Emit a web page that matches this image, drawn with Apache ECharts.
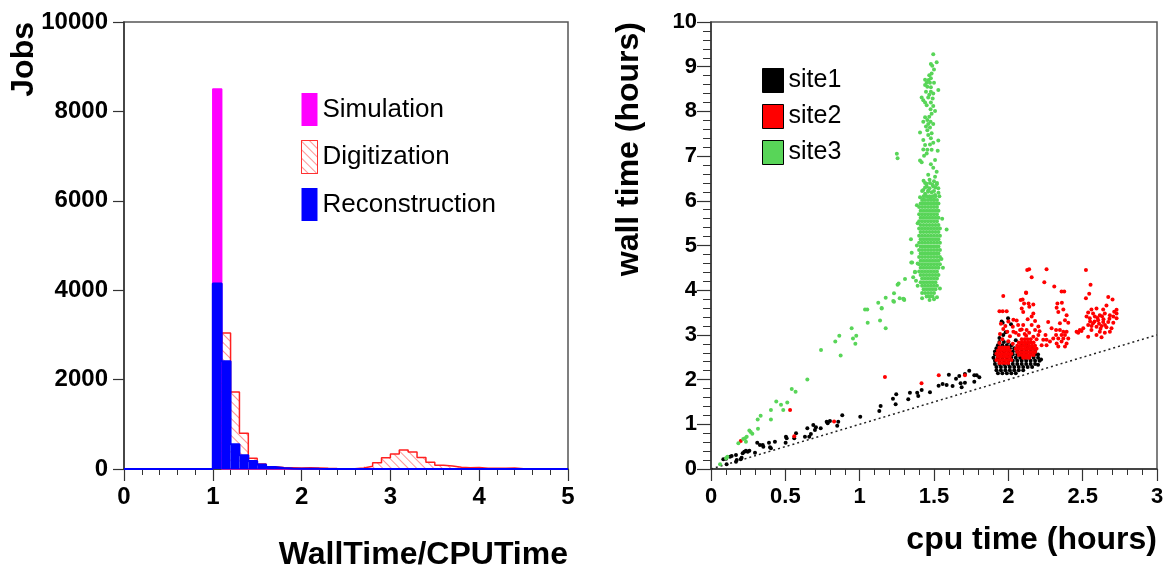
<!DOCTYPE html>
<html>
<head>
<meta charset="utf-8">
<script src="https://cdn.jsdelivr.net/npm/echarts@6/dist/echarts.min.js"></script>
<style>html,body{margin:0;padding:0;background:#fff}#c{width:1168px;height:572px}</style>
</head>
<body>
<div id="c"></div>
<script>
// ---------- Histogram (WallTime/CPUTime), 50 bins of width 0.1 from 0 to 5 ----------
const simulation = [0,0,0,0,0,0,0,0,0,0, 8500,0,0,0,0,0,0,0,0,0, 0,0,0,0,0,0,0,0,0,0, 0,0,0,0,0,0,0,0,0,0, 0,0,0,0,0,0,0,0,0,0];
const digitization = [0,0,0,0,0,0,0,0,0,0, 2800,3040,1720,800,240,110,50,35,30,25, 28,25,15,10,8,8,20,60,140,250, 335,425,380,260,150,83,67,38,30,35, 15,15,18,20,4,3,2,0,0,0];
const reconstruction = [0,0,0,0,0,0,0,0,0,0, 4150,2410,553,306,179,100,45,25,12,8, 5,3,2,0,0,0,0,0,0,0, 0,0,0,0,0,0,0,0,0,0, 0,0,0,0,0,0,0,0,0,0];
const histXTicks = [0,1,2,3,4,5];
const histYTicks = [0,2000,4000,6000,8000,10000];

// ---------- Scatter (cpu time vs wall time, hours) ----------
const site1 = [
[0.083,0.216],[0.101,0.231],[0.105,0.104],[0.128,0.276],[0.139,0.291],[0.168,0.313],[0.173,0.201],[0.168,0.164],[0.2,0.216],[0.206,0.253],
[0.213,0.351],[0.224,0.388],[0.235,0.41],[0.247,0.388],[0.258,0.41],[0.296,0.365],[0.311,0.589],[0.329,0.537],[0.348,0.537],[0.352,0.5],
[0.39,0.589],[0.397,0.485],[0.403,0.463],[0.43,0.611],[0.502,0.589],[0.504,0.723],[0.509,0.686],[0.56,0.686],[0.572,0.798],[0.632,0.723],
[0.648,0.91],[0.661,0.723],[0.672,0.783],[0.688,0.984],[0.699,0.872],[0.706,0.932],[0.738,0.91],[0.778,1.059],[0.785,1.022],[0.8,1.074],
[0.849,0.969],[0.856,1.059],[0.883,1.201],[1.004,1.17],[1.132,1.298],[1.141,1.409],[1.224,1.573],[1.242,1.447],[1.246,1.671],[1.327,1.559],
[1.338,1.707],[1.387,1.707],[1.394,1.633],[1.417,1.767],[1.473,1.715],[1.531,1.864],[1.558,1.902],[1.585,1.879],[1.6,2.11],[1.625,1.857],
[1.648,2.02],[1.67,2.08],[1.708,2.125],[1.737,2.2],[1.686,1.83],[1.708,1.93],[1.679,1.92],[1.771,2.10],[1.787,2.10],[1.805,2.05],[1.771,1.95],
[1.94,2.84],[1.97,2.84],[2.00,2.84],
[1.93,2.77],[1.96,2.77],[1.99,2.77],[2.02,2.77],[2.09,2.77],[2.12,2.77],
[1.92,2.70],[1.95,2.70],[1.98,2.70],[2.01,2.70],[2.04,2.70],[2.07,2.70],[2.13,2.70],[2.16,2.70],
[1.91,2.63],[1.94,2.63],[1.97,2.63],[2.00,2.63],[2.03,2.63],[2.06,2.63],[2.09,2.63],[2.12,2.63],[2.15,2.63],[2.18,2.63],
[1.91,2.56],[1.94,2.56],[1.97,2.56],[2.00,2.56],[2.03,2.56],[2.06,2.56],[2.09,2.56],[2.12,2.56],[2.15,2.56],[2.18,2.56],[2.20,2.56],
[1.90,2.49],[1.93,2.49],[1.96,2.49],[1.99,2.49],[2.02,2.49],[2.05,2.49],[2.08,2.49],[2.11,2.49],[2.14,2.49],[2.17,2.49],[2.20,2.49],
[1.91,2.42],[1.94,2.42],[1.97,2.42],[2.00,2.42],[2.03,2.42],[2.06,2.42],[2.09,2.42],[2.12,2.42],[2.15,2.42],[2.18,2.42],[2.21,2.42],
[1.91,2.35],[1.94,2.35],[1.97,2.35],[2.00,2.35],[2.03,2.35],[2.06,2.35],[2.09,2.35],[2.12,2.35],[2.15,2.35],[2.18,2.35],
[1.92,2.28],[1.95,2.28],[1.98,2.28],[2.01,2.28],[2.04,2.28],[2.07,2.28],[2.10,2.28],[2.13,2.28],[2.16,2.28],
[1.92,2.21],[1.95,2.21],[1.98,2.21],[2.01,2.21],[2.04,2.21],[2.07,2.21],[2.10,2.21],
[1.93,2.14],[1.96,2.14],[1.99,2.14],[2.02,2.14],[2.05,2.14],
[1.962,3.27],[1.998,3.37],[1.955,3.30],[1.982,3.06],[1.966,3.00],[2.018,3.24],[1.94,2.93],[2.05,2.88],[2.20,2.33],[2.22,2.45]
];
const site2 = [
[0.2,0.626],[0.532,1.32],[0.56,0.73],[0.828,1.06],[1.17,2.06],[1.416,1.92],[1.532,2.1],[1.708,2.10],
[2.127,4.45],[2.14,4.47],[2.257,4.47],[2.522,4.45],[2.157,4.29],[2.242,4.18],[2.309,4.08],[2.553,4.12],[1.966,3.87],[2.119,3.95],[2.358,3.97],[2.376,3.97],
[2.544,3.92],[2.672,3.85],[2.522,3.82],
[1.94,3.53],[1.962,3.53],[1.989,3.53],[2.083,3.78],[2.096,3.79],[2.12,3.94],[2.106,3.70],[2.136,3.70],[2.168,3.68],[2.09,3.59],[2.10,3.51],[2.141,3.63],
[2.168,3.48],[2.157,3.41],[2.13,3.35],[2.18,3.31],[2.056,3.32],[2.034,3.34],[1.966,3.13],[1.944,3.02],[1.993,3.07],[2.011,2.97],[2.034,3.07],
[2.066,3.22],[2.079,3.11],[2.1,3.22],[2.123,3.11],[2.157,3.22],[2.18,3.11],[2.202,3.19],[2.202,3.0],[2.235,2.89],[2.257,2.89],[2.224,2.77],[2.168,2.96],
[2.268,3.29],[2.33,3.70],[2.36,3.72],[2.325,3.61],[2.37,3.57],[2.336,3.51],[2.392,3.44],[2.381,3.33],[2.347,3.26],[2.403,3.27],
[2.291,3.15],[2.321,3.11],[2.347,3.11],[2.37,3.07],[2.392,3.07],[2.321,3.0],[2.358,3.0],[2.381,3.0],[2.302,2.92],[2.336,2.92],[2.37,2.92],[2.403,2.92],
[2.325,2.81],[2.358,2.85],[2.392,2.81],[2.336,2.74],[2.381,2.74],[2.28,2.85],[2.257,2.77],[2.459,3.07],[2.481,3.11],
[2.701,3.79],[2.728,3.56],[2.712,3.52],[2.66,3.66],[2.638,3.57],[2.593,3.59],[2.559,3.57],[2.57,3.48],[2.537,3.50],[2.526,3.41],[2.548,3.37],
[2.582,3.41],[2.615,3.44],[2.649,3.48],[2.683,3.44],[2.706,3.41],[2.728,3.37],[2.604,3.33],[2.638,3.29],[2.672,3.29],[2.706,3.27],[2.57,3.26],
[2.537,3.22],[2.593,3.18],[2.627,3.20],[2.66,3.17],[2.694,3.15],[2.504,3.15],[2.559,3.11],[2.615,3.07],[2.649,3.05],[2.683,3.07],[2.593,3.0],
[2.537,2.96],[2.627,2.95],[2.492,3.09],[2.47,3.05],[2.728,3.48],
[2.58,3.3],[2.61,3.25],[2.64,3.35],[2.60,3.38],[2.62,3.14],[2.65,3.22],[2.56,3.2],[2.68,3.36],[2.55,3.3],[2.63,3.42],
[1.95,3.25],[1.98,3.2],[2.0,3.3],[2.03,3.18],[2.05,3.05],[2.07,3.0],[2.11,3.02],[2.14,3.05],[2.12,2.98],[2.09,3.12],[2.19,2.90],[2.21,3.08],
[2.25,3.0],[2.0,2.86],[1.96,2.9],[1.94,2.82],[2.03,2.8],
[1.94,2.72],[1.96,2.72],[1.98,2.72],[2.00,2.72],
[1.93,2.65],[1.95,2.65],[1.97,2.65],[1.99,2.65],[2.01,2.65],
[1.92,2.58],[1.94,2.58],[1.96,2.58],[1.98,2.58],[2.00,2.58],[2.02,2.58],
[1.93,2.51],[1.95,2.51],[1.97,2.51],[1.99,2.51],[2.01,2.51],
[1.92,2.44],[1.94,2.44],[1.96,2.44],[1.98,2.44],[2.00,2.44],[2.02,2.44],
[1.94,2.37],[1.96,2.37],[1.98,2.37],[2.00,2.37],
[2.09,2.90],[2.11,2.90],[2.13,2.90],[2.15,2.90],
[2.07,2.83],[2.09,2.83],[2.11,2.83],[2.13,2.83],[2.15,2.83],[2.17,2.83],
[2.06,2.76],[2.08,2.76],[2.10,2.76],[2.12,2.76],[2.14,2.76],[2.16,2.76],[2.18,2.76],
[2.05,2.69],[2.07,2.69],[2.09,2.69],[2.11,2.69],[2.13,2.69],[2.15,2.69],[2.17,2.69],[2.19,2.69],
[2.06,2.62],[2.08,2.62],[2.10,2.62],[2.12,2.62],[2.14,2.62],[2.16,2.62],[2.18,2.62],
[2.07,2.55],[2.09,2.55],[2.11,2.55],[2.13,2.55],[2.15,2.55],[2.17,2.55],
[2.10,2.49],[2.12,2.49],[2.14,2.49]
];
const site3 = [
[0.061,0.105],[0.101,0.24],[0.11,0.275],[0.184,0.575],[0.217,0.67],[0.229,0.69],[0.24,0.72],[0.235,0.61],[0.258,0.86],[0.267,0.83],
[0.278,0.79],[0.316,0.90],[0.314,1.11],[0.334,1.19],[0.403,1.32],[0.403,1.11],[0.439,1.51],[0.471,1.44],[0.486,1.32],[0.513,1.49],
[0.543,1.79],[0.569,1.73],[0.648,2.00],[0.74,2.66],[0.836,2.85],[0.863,2.98],[0.872,2.54],[0.946,3.15],[0.955,2.92],[0.971,2.80],
[0.977,2.98],[1.036,3.57],[1.051,3.57],[1.054,3.27],[1.125,3.72],[1.137,3.32],[1.148,3.59],[1.175,3.83],[1.175,3.15],[1.231,3.93],
[1.231,3.74],[1.255,4.12],[1.262,4.15],[1.269,3.82],[1.298,3.80],[1.305,4.25],[1.347,4.62],[1.36,4.29],[1.372,4.40],[1.379,4.21],
[1.50,3.80],[1.54,4.04],[1.585,5.36],[1.345,5.14],[1.35,4.84],[1.353,4.62],[1.372,4.41],[1.25,7.05],[1.255,6.95],[1.226,3.76],
[1.293,3.81],[1.30,3.78],[1.148,3.60],
[1.495,9.28],[1.518,9.10],[1.479,9.06],[1.488,9.02],[1.50,8.94],[1.484,8.85],[1.468,8.81],[1.479,8.74],[1.464,8.70],[1.44,8.71],
[1.451,8.64],[1.473,8.64],[1.50,8.64],[1.44,8.59],[1.455,8.55],[1.479,8.54],[1.529,8.48],[1.446,8.44],[1.479,8.44],[1.495,8.40],
[1.468,8.37],[1.417,8.31],[1.461,8.31],[1.491,8.29],[1.428,8.25],[1.44,8.2],[1.479,8.2],[1.451,8.14],[1.495,8.12],[1.477,8.05],
[1.507,8.01],[1.484,7.95],[1.468,7.88],[1.44,7.87],[1.455,7.81],[1.428,7.77],[1.477,7.77],[1.461,7.72],[1.495,7.72],[1.446,7.66],
[1.473,7.64],[1.455,7.58],[1.406,7.53],[1.484,7.51],[1.461,7.47],[1.479,7.40],[1.428,7.36],[1.529,7.35],[1.495,7.30],[1.473,7.26],
[1.44,7.25],[1.428,7.15],[1.455,7.14],[1.484,7.14],[1.525,7.12],[1.451,7.06],[1.433,7.01],[1.507,6.91],[1.406,6.90],[1.417,6.86],
[1.479,6.82],[1.495,6.74],[1.518,6.65],[1.461,6.58],[1.507,6.54],[1.44,6.40],[1.473,6.40],[1.518,6.37],[1.451,6.32],[1.495,6.32],
[1.529,6.28],[1.428,6.24],[1.461,6.23],[1.484,6.19],[1.44,6.16],[1.507,6.13],[1.406,6.08],[1.455,6.09],[1.536,6.10],[1.477,6.06],
[1.428,6.03],[1.50,6.03],
[1.43,6.45],[1.47,6.47],[1.50,6.44],[1.45,6.38],[1.49,6.36],[1.52,6.40],[1.44,6.30],[1.47,6.28],[1.51,6.30],[1.42,6.22],[1.46,6.20],[1.50,6.22],[1.53,6.18],
[1.385,5.9],[1.39,5.5],[1.385,5.0],[1.39,4.6],[1.555,5.6],[1.55,4.7],[1.56,4.5],[1.39,4.1],[1.42,3.82],[1.47,3.78],[1.52,3.84],
[1.43,6.10],[1.45,6.10],[1.47,6.10],[1.49,6.10],[1.51,6.10],
[1.42,6.02],[1.44,6.02],[1.46,6.02],[1.48,6.02],[1.50,6.02],[1.52,6.02],
[1.41,5.94],[1.43,5.94],[1.45,5.94],[1.47,5.94],[1.49,5.94],[1.51,5.94],[1.53,5.94],
[1.40,5.86],[1.42,5.86],[1.44,5.86],[1.46,5.86],[1.48,5.86],[1.50,5.86],[1.52,5.86],
[1.41,5.78],[1.43,5.78],[1.45,5.78],[1.47,5.78],[1.49,5.78],[1.51,5.78],[1.53,5.78],
[1.40,5.70],[1.42,5.70],[1.44,5.70],[1.46,5.70],[1.48,5.70],[1.50,5.70],[1.52,5.70],
[1.41,5.62],[1.43,5.62],[1.45,5.62],[1.47,5.62],[1.49,5.62],[1.51,5.62],[1.53,5.62],
[1.40,5.54],[1.42,5.54],[1.44,5.54],[1.46,5.54],[1.48,5.54],[1.50,5.54],[1.52,5.54],
[1.41,5.46],[1.43,5.46],[1.45,5.46],[1.47,5.46],[1.49,5.46],[1.51,5.46],[1.53,5.46],
[1.40,5.38],[1.42,5.38],[1.44,5.38],[1.46,5.38],[1.48,5.38],[1.50,5.38],[1.52,5.38],[1.54,5.38],
[1.41,5.30],[1.43,5.30],[1.45,5.30],[1.47,5.30],[1.49,5.30],[1.51,5.30],[1.53,5.30],
[1.40,5.22],[1.42,5.22],[1.44,5.22],[1.46,5.22],[1.48,5.22],[1.50,5.22],[1.52,5.22],[1.54,5.22],
[1.41,5.14],[1.43,5.14],[1.45,5.14],[1.47,5.14],[1.49,5.14],[1.51,5.14],[1.53,5.14],
[1.40,5.06],[1.42,5.06],[1.44,5.06],[1.46,5.06],[1.48,5.06],[1.50,5.06],[1.52,5.06],[1.54,5.06],
[1.41,4.98],[1.43,4.98],[1.45,4.98],[1.47,4.98],[1.49,4.98],[1.51,4.98],[1.53,4.98],
[1.40,4.90],[1.42,4.90],[1.44,4.90],[1.46,4.90],[1.48,4.90],[1.50,4.90],[1.52,4.90],[1.54,4.90],
[1.41,4.82],[1.43,4.82],[1.45,4.82],[1.47,4.82],[1.49,4.82],[1.51,4.82],[1.53,4.82],
[1.40,4.74],[1.42,4.74],[1.44,4.74],[1.46,4.74],[1.48,4.74],[1.50,4.74],[1.52,4.74],[1.54,4.74],
[1.41,4.66],[1.43,4.66],[1.45,4.66],[1.47,4.66],[1.49,4.66],[1.51,4.66],[1.53,4.66],
[1.40,4.58],[1.42,4.58],[1.44,4.58],[1.46,4.58],[1.48,4.58],[1.50,4.58],[1.52,4.58],[1.54,4.58],
[1.41,4.50],[1.43,4.50],[1.45,4.50],[1.47,4.50],[1.49,4.50],[1.51,4.50],[1.53,4.50],
[1.40,4.42],[1.42,4.42],[1.44,4.42],[1.46,4.42],[1.48,4.42],[1.50,4.42],[1.52,4.42],
[1.41,4.34],[1.43,4.34],[1.45,4.34],[1.47,4.34],[1.49,4.34],[1.51,4.34],[1.53,4.34],
[1.42,4.26],[1.44,4.26],[1.46,4.26],[1.48,4.26],[1.50,4.26],[1.52,4.26],
[1.41,4.18],[1.43,4.18],[1.45,4.18],[1.47,4.18],[1.49,4.18],[1.51,4.18],
[1.42,4.10],[1.44,4.10],[1.46,4.10],[1.48,4.10],[1.50,4.10],[1.52,4.10],
[1.43,4.02],[1.45,4.02],[1.47,4.02],[1.49,4.02],[1.51,4.02],
[1.42,3.94],[1.44,3.94],[1.46,3.94],[1.48,3.94],[1.50,3.94],
[1.45,3.86],[1.47,3.86],[1.49,3.86]
];
const diagonal = [[0,0],[3,3]];
const scatterXTicks = [0,0.5,1,1.5,2,2.5,3];
const scatterYTicks = [0,1,2,3,4,5,6,7,8,9,10];

// ---------- build ----------
const FONT = '"Liberation Sans", Arial, Helvetica, sans-serif';
const BIN = 0.1;
const binLo = simulation.map((_, i) => Math.round(i * BIN * 10) / 10);
const barData = arr => arr.map((v, i) => [binLo[i] + BIN / 2, v]);
const stepData = arr => arr.map((v, i) => [binLo[i], v]).concat([[5, 0]]);
const plain = v => String(v);

const axisCommon = {
  axisLine: { show: true, onZero: false, lineStyle: { color: '#333', width: 1.5 } },
  axisTick: { show: true, inside: false, length: 12, lineStyle: { color: '#333', width: 1.2 } },
  minorTick: { show: true, splitNumber: 5, length: 6, lineStyle: { color: '#333', width: 1 } },
  splitLine: { show: false },
  minorSplitLine: { show: false }
};

const chart = echarts.init(document.getElementById('c'), null, { renderer: 'canvas' });
chart.setOption({
  animation: false,
  backgroundColor: '#fff',
  textStyle: { fontFamily: FONT },
  grid: [
    { left: 124, top: 22, width: 444, height: 447, show: true, borderColor: '#555', borderWidth: 1.5, backgroundColor: 'transparent' },
    { left: 711, top: 22, width: 446, height: 447, show: true, borderColor: '#555', borderWidth: 1.5, backgroundColor: 'transparent' }
  ],
  xAxis: [
    Object.assign({}, axisCommon, {
      gridIndex: 0, type: 'value', min: histXTicks[0], max: histXTicks[histXTicks.length - 1], interval: 1,
      axisLabel: { color: '#000', fontSize: 24, fontWeight: 'bold', fontFamily: FONT, margin: 16, formatter: plain }
    }),
    Object.assign({}, axisCommon, {
      gridIndex: 1, type: 'value', min: scatterXTicks[0], max: scatterXTicks[scatterXTicks.length - 1], interval: 0.5,
      axisLabel: { color: '#000', fontSize: 22, fontWeight: 'bold', fontFamily: FONT, margin: 17, formatter: plain }
    })
  ],
  yAxis: [
    Object.assign({}, axisCommon, {
      gridIndex: 0, type: 'value', min: histYTicks[0], max: histYTicks[histYTicks.length - 1], interval: 2000,
      axisTick: { show: true, inside: false, length: 11, lineStyle: { color: '#333', width: 1.2 } },
      minorTick: { show: false },
      axisLabel: { color: '#000', fontSize: 24, fontWeight: 'bold', fontFamily: FONT, margin: 16, formatter: plain }
    }),
    Object.assign({}, axisCommon, {
      gridIndex: 1, type: 'value', min: scatterYTicks[0], max: scatterYTicks[scatterYTicks.length - 1], interval: 1,
      axisTick: { show: true, inside: false, length: 14, lineStyle: { color: '#333', width: 1.2 } },
      minorTick: { show: true, splitNumber: 5, length: 8, lineStyle: { color: '#333', width: 1 } },
      axisLabel: { color: '#000', fontSize: 22, fontWeight: 'bold', fontFamily: FONT, margin: 14, formatter: plain }
    })
  ],
  legend: [
    {
      data: [
        { name: 'Simulation' },
        { name: 'Digitization', itemStyle: { borderColor: '#ff3030', borderWidth: 1 } },
        { name: 'Reconstruction' }
      ],
      orient: 'vertical', left: 301, top: 93, icon: 'rect',
      itemWidth: 16, itemHeight: 33, itemGap: 14, padding: 0,
      textStyle: { fontSize: 26, color: '#000', fontFamily: FONT }
    },
    {
      data: ['site1', 'site2', 'site3'],
      orient: 'vertical', left: 762, top: 68, icon: 'rect',
      itemWidth: 21, itemHeight: 24, itemGap: 11, padding: 0,
      itemStyle: { borderColor: '#000', borderWidth: 1, opacity: 1 },
      textStyle: { fontSize: 25, color: '#000', fontFamily: FONT }
    }
  ],
  series: [
    { name: 'Simulation', type: 'bar', z: 1, xAxisIndex: 0, yAxisIndex: 0, data: barData(simulation),
      barWidth: '100%', barGap: '-100%', barCategoryGap: '0%',
      itemStyle: { color: '#ff00ff' } },
    { name: 'Simulation', type: 'line', z: 2, xAxisIndex: 0, yAxisIndex: 0, data: stepData(simulation), step: 'end',
      showSymbol: false, symbol: 'none', lineStyle: { color: '#ff00ff', width: 1.5 } },
    { name: 'Digitization', type: 'bar', z: 3, xAxisIndex: 0, yAxisIndex: 0, data: barData(digitization),
      barWidth: '100%', barGap: '-100%', barCategoryGap: '0%',
      itemStyle: { color: 'rgba(255,255,255,0.02)',
        decal: { symbol: 'rect', symbolSize: 1, color: 'rgba(255,60,60,0.55)', backgroundColor: 'rgba(255,255,255,0)',
                 dashArrayX: [1, 0], dashArrayY: [1, 5], rotation: Math.PI / 4 } } },
    { name: 'Digitization', type: 'line', z: 4, xAxisIndex: 0, yAxisIndex: 0, data: stepData(digitization), step: 'end',
      showSymbol: false, symbol: 'none', lineStyle: { color: '#ff2020', width: 1.5 } },
    { name: 'Reconstruction', type: 'bar', z: 5, xAxisIndex: 0, yAxisIndex: 0, data: barData(reconstruction),
      barWidth: '100%', barGap: '-100%', barCategoryGap: '0%',
      itemStyle: { color: '#0000ff' } },
    { name: 'Reconstruction', type: 'line', z: 6, xAxisIndex: 0, yAxisIndex: 0, data: stepData(reconstruction), step: 'end',
      showSymbol: false, symbol: 'none', lineStyle: { color: '#0000ff', width: 2 } },

    { type: 'line', z: 1, xAxisIndex: 1, yAxisIndex: 1, data: diagonal, showSymbol: false, symbol: 'none',
      lineStyle: { color: '#222', width: 1.5, type: [2, 3] } },
    { name: 'site1', type: 'scatter', z: 2, xAxisIndex: 1, yAxisIndex: 1, data: site1, symbol: 'circle', symbolSize: 4,
      itemStyle: { color: '#000000', opacity: 1 } },
    { name: 'site2', type: 'scatter', z: 3, xAxisIndex: 1, yAxisIndex: 1, data: site2, symbol: 'circle', symbolSize: 4,
      itemStyle: { color: '#ff0000', opacity: 1 } },
    { name: 'site3', type: 'scatter', z: 4, xAxisIndex: 1, yAxisIndex: 1, data: site3, symbol: 'circle', symbolSize: 4,
      itemStyle: { color: '#58d558', opacity: 1 } }
  ],
  graphic: [
    { type: 'text', x: 24, y: 22, rotation: Math.PI / 2,
      style: { text: 'Jobs', font: 'bold 32px ' + FONT, fill: '#000', align: 'right', textAlign: 'right', verticalAlign: 'middle', textVerticalAlign: 'middle' } },
    { type: 'text', x: 568, y: 555,
      style: { text: 'WallTime/CPUTime', font: 'bold 32px ' + FONT, fill: '#000', align: 'right', textAlign: 'right', verticalAlign: 'middle', textVerticalAlign: 'middle' } },
    { type: 'text', x: 629, y: 22, rotation: Math.PI / 2,
      style: { text: 'wall time (hours)', font: 'bold 32px ' + FONT, fill: '#000', align: 'right', textAlign: 'right', verticalAlign: 'middle', textVerticalAlign: 'middle' } },
    { type: 'text', x: 1157, y: 540,
      style: { text: 'cpu time (hours)', font: 'bold 32px ' + FONT, fill: '#000', align: 'right', textAlign: 'right', verticalAlign: 'middle', textVerticalAlign: 'middle' } }
  ]
});
</script>
</body>
</html>
